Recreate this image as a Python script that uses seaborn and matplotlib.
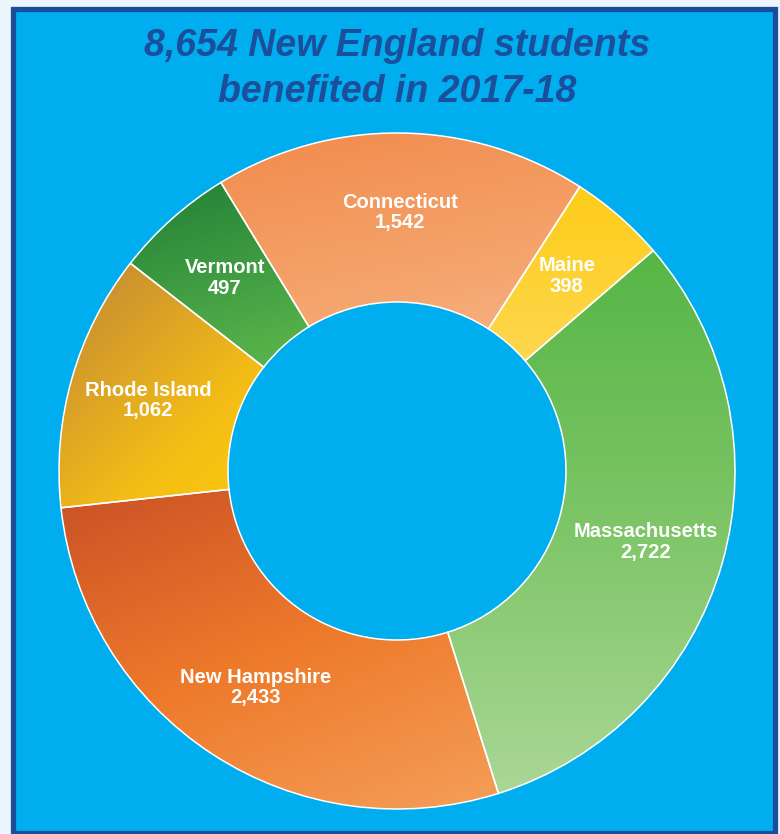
import numpy as np
import seaborn as sns
import matplotlib.pyplot as plt
from matplotlib.patches import Rectangle

# data (clockwise from the top)
states = ['Connecticut', 'Maine', 'Massachusetts', 'New Hampshire', 'Rhode Island', 'Vermont']
students = [1542, 398, 2722, 2433, 1062, 497]
title = '8,654 New England students\nbenefited in 2017-18'

# gradient colours per slice and the direction of the fade
grad_colors = [['#F28E50', '#F5A66F', '#F9C29F'],
               ['#FDCD18', '#FED545', '#FEDE72'],
               ['#56B645', '#7DC567', '#AAD795'],
               ['#CD5426', '#EE7A2B', '#F49C56'],
               ['#CB932F', '#F5BE15', '#FFD106'],
               ['#278639', '#54AF49', '#6FC15C']]
grad_dirs = [(0.2, -1), (0, -1), (0, -1), (0.4, -1), (1, -1), (0.3, -1)]

sns.set_style('white')
plt.rcParams['font.family'] = ['Liberation Sans', 'DejaVu Sans']

fig = plt.figure(figsize=(7.8, 8.34), dpi=100)
fig.patch.set_facecolor('#EEF6FD')

# blue panel with dark blue frame
fig.patches.append(Rectangle((13 / 780, 1 / 834), 762 / 780, 824 / 834,
                             transform=fig.transFigure, facecolor='#00AEEF',
                             edgecolor='#1A4E9A', linewidth=3.8, zorder=-5))

fig.text(397 / 780, 1 - 69 / 834, title, ha='center', va='center',
         fontsize=27, fontweight='bold', fontstyle='italic', color='#1B4E9B',
         linespacing=1.33)

ax = fig.add_axes([59 / 780, 25 / 834, 676 / 780, 676 / 834])
ax.set_facecolor('none')
ax.set_zorder(2)

wedges, _ = ax.pie(students, startangle=121.4, counterclock=False, radius=1,
                   wedgeprops=dict(width=0.5, edgecolor='white', linewidth=1.1))

# paint each slice with a soft gradient clipped to the wedge shape
xs = np.linspace(-1, 1, 400)
X, Y = np.meshgrid(xs, xs)
for w, cols, (dx, dy) in zip(wedges, grad_colors, grad_dirs):
    verts = w.get_path().vertices
    proj = verts[:, 0] * dx + verts[:, 1] * dy
    t = (X * dx + Y * dy - proj.min()) / (proj.max() - proj.min())
    cmap = sns.blend_palette(cols, n_colors=256, as_cmap=True)
    im = ax.imshow(np.clip(t, 0, 1), extent=(-1, 1, -1, 1), origin='lower',
                   cmap=cmap, vmin=0, vmax=1, interpolation='bilinear', zorder=1)
    im.set_clip_path(w)
    w.set_facecolor('none')
    w.set_zorder(2)

# labels at the middle of each slice
for w, name, val in zip(wedges, states, students):
    ang = np.deg2rad((w.theta1 + w.theta2) / 2)
    r = 0.765
    ax.text(r * np.cos(ang), r * np.sin(ang), f'{name}\n{val:,}', ha='center', va='center',
            color='white', fontsize=14.5, fontweight='bold', linespacing=1.1, zorder=3)

ax.set_xlim(-1, 1)
ax.set_ylim(-1, 1)
ax.set_aspect('equal')
ax.axis('off')

fig.savefig('out.png', dpi=100, facecolor=fig.get_facecolor())
